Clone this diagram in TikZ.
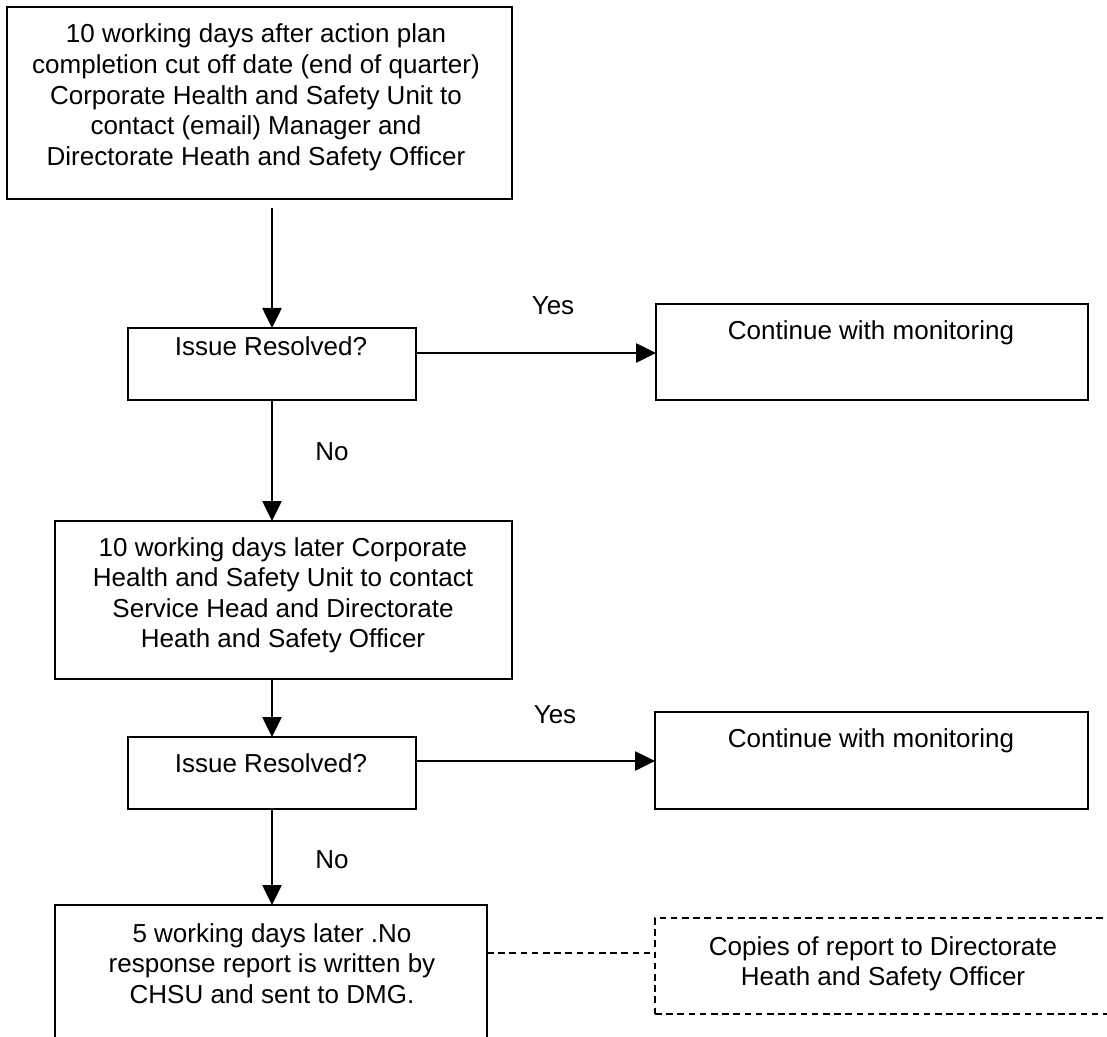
\documentclass[tikz,border=0pt]{standalone}
\usepackage{fontspec}
\setmainfont{Liberation Sans}
\usetikzlibrary{arrows.meta,calc}
\tikzset{
  box/.style={draw, line width=1.2pt, inner sep=0pt, outer sep=0pt},
  dbox/.style={box, line width=1pt, dash pattern=on 5pt off 3.4pt},
  txt/.style={inner sep=0pt, anchor=base, font=\fontsize{19.5pt}{23pt}\selectfont},
  arr/.style={line width=1.1pt, -{Triangle[length=15pt,width=14.5pt]}},
  dline/.style={line width=1.1pt, dash pattern=on 5pt off 3.4pt}
}
\newcommand{\ml}[1]{\begin{tabular}[t]{@{}c@{}}#1\end{tabular}}
\begin{document}
\begin{tikzpicture}[x=0.75pt,y=-0.75pt]
\useasboundingbox (0,0) rectangle (1107,1037);
\clip (0,0) rectangle (1107,1037);
% boxes
\node[box, minimum width=378.75pt, minimum height=144pt] (top) at (259.5,103) {};
\node[box, minimum width=216pt, minimum height=54pt] (i1) at (272,364) {};
\node[box, minimum width=324pt, minimum height=72pt] (c1) at (872,352) {};
\node[box, minimum width=342.75pt, minimum height=118.5pt] (b2) at (283.5,600) {};
\node[box, minimum width=216pt, minimum height=54pt] (i2) at (272,773) {};
\node[box, minimum width=324.75pt, minimum height=72.75pt] (c2) at (871.5,760.5) {};
\node[box, minimum width=324pt, minimum height=131.25pt] (b3) at (271,992.5) {};
\node[dbox, minimum width=342pt, minimum height=72pt] (d) at (883,966) {};
% texts
\node[txt] (ttop) at (256,43) {\ml{10 working days after action plan\\completion cut off date (end of quarter)\\Corporate Health and Safety Unit to\\contact (email) Manager and\\Directorate Heath and Safety Officer}};
\node[txt] (ti1) at (271,356) {Issue Resolved?};
\node[txt] (tc1) at (871,340) {Continue with monitoring};
\node[txt] (tb2) at (283,556) {\ml{10 working days later Corporate\\Health and Safety Unit to contact\\Service Head and Directorate\\Heath and Safety Officer}};
\node[txt] (ti2) at (271,772) {Issue Resolved?};
\node[txt] (tc2) at (871,747) {Continue with monitoring};
\node[txt] (tb3) at (272,942) {\ml{5 working days later .No\\response report is written by\\CHSU and sent to DMG.}};
\node[txt] (td) at (883,955) {\ml{Copies of report to Directorate\\Heath and Safety Officer}};
% labels
\node[txt] (yes1) at (553,315) {Yes};
\node[txt] (yes2) at (555,723) {Yes};
\node[txt] (no1) at (332,460) {No};
\node[txt] (no2) at (332,868) {No};
% connectors
\coordinate (s1) at ($(top.south -| i1.north)+(0,9)$);
\draw[arr] (s1) -- (i1.north);
\draw[arr] (i1.south) -- (b2.north -| i1.south);
\draw[arr] (b2.south -| i2.north) -- (i2.north);
\draw[arr] (i2.south) -- (b3.north -| i2.south);
\coordinate (y1) at ($(i1.north east)+(0,25)$);
\draw[arr] (y1) -- (y1 -| c1.west);
\coordinate (y2) at ($(i2.north east)+(0,24)$);
\draw[arr] (y2) -- (y2 -| c2.west);
\coordinate (y3) at ($(b3.north east)+(0,48)$);
\draw[dline] (y3) -- (y3 -| d.west);
\end{tikzpicture}
\end{document}
